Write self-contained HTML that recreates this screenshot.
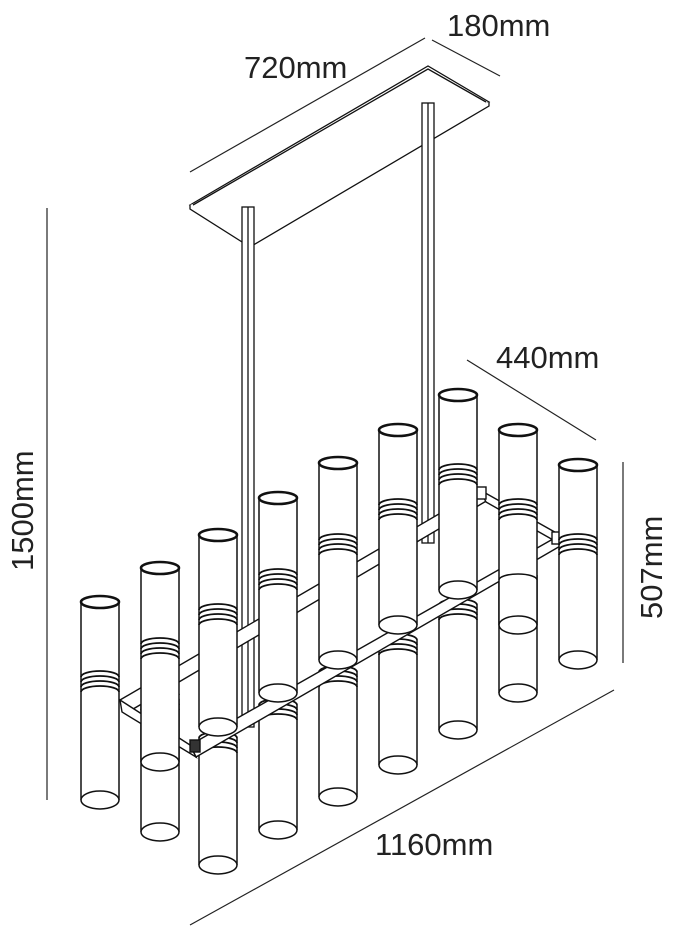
<!DOCTYPE html>
<html><head><meta charset="utf-8"><style>
html,body{margin:0;padding:0;background:#fff;width:700px;height:937px;overflow:hidden}
svg{display:block}
text{font-family:"Liberation Sans",sans-serif;fill:#222}
</style></head><body>
<svg width="700" height="937" viewBox="0 0 700 937" xmlns="http://www.w3.org/2000/svg">
<defs>
<g id="rings" fill="none" stroke="#111" stroke-width="1.8">
<path d="M-19 0 A19 6 0 0 1 19 0"/><path d="M-19 5 A19 6 0 0 1 19 5"/><path d="M-19 10 A19 6 0 0 1 19 10"/><path d="M-19 15 A19 6 0 0 1 19 15"/>
</g>
</defs>
<g stroke="#222" stroke-width="1.2" fill="none">
<line x1="190" y1="172" x2="425" y2="38"/>
<line x1="432" y1="40" x2="500" y2="76"/>
<line x1="47" y1="208" x2="47" y2="800"/>
<line x1="467" y1="360" x2="596" y2="440"/>
<line x1="623" y1="462" x2="623" y2="663"/>
<line x1="190" y1="925" x2="614" y2="690"/>
</g>
<text x="244" y="78" font-size="31">720mm</text>
<text x="447" y="36" font-size="31">180mm</text>
<text x="496" y="368" font-size="31">440mm</text>
<text x="375" y="855" font-size="31">1160mm</text>
<text transform="translate(33,571) rotate(-90)" font-size="31">1500mm</text>
<text transform="translate(662,619) rotate(-90)" font-size="31">507mm</text>

<g stroke="#111" stroke-width="1.3" fill="#fff">
<path d="M190 205 L428 66 L489 102 L250 243 Z"/>
<path d="M190 205 L190 209 L250 247 L489 106 L489 102" />
<path d="M193 205 L428 69 L486 102" fill="none"/>
</g>
<g stroke="#111" stroke-width="1.3" fill="#fff">
<rect x="242" y="207" width="12" height="520"/>
<line x1="248" y1="207" x2="248" y2="727"/>
<rect x="422" y="103" width="12" height="440"/>
<line x1="428" y1="103" x2="428" y2="543"/>
</g>

<g stroke="#111" stroke-width="1.5" fill="#fff">
<g transform="translate(160,700)"><path d="M-19 0 V132 M19 0 V132"/><ellipse cx="0" cy="132" rx="19" ry="9"/><use href="#rings" y="-5"/></g>
<g transform="translate(218,738)"><path d="M-19 0 V127 M19 0 V127"/><ellipse cx="0" cy="127" rx="19" ry="9"/><use href="#rings" y="0"/></g>
<g transform="translate(278,705)"><path d="M-19 0 V125 M19 0 V125"/><ellipse cx="0" cy="125" rx="19" ry="9"/><use href="#rings" y="0"/></g>
<g transform="translate(338,672)"><path d="M-19 0 V125 M19 0 V125"/><ellipse cx="0" cy="125" rx="19" ry="9"/><use href="#rings" y="0"/></g>
<g transform="translate(398,640)"><path d="M-19 0 V125 M19 0 V125"/><ellipse cx="0" cy="125" rx="19" ry="9"/><use href="#rings" y="0"/></g>
<g transform="translate(458,605)"><path d="M-19 0 V125 M19 0 V125"/><ellipse cx="0" cy="125" rx="19" ry="9"/><use href="#rings" y="0"/></g>
<g transform="translate(518,575)"><path d="M-19 0 V118 M19 0 V118"/><ellipse cx="0" cy="118" rx="19" ry="9"/></g>
</g>

<g stroke="#111" stroke-width="1.4" fill="#fff">
<path d="M120 700 L480 490 L488 500 L128 712 Z"/>
<path d="M190 745 L560 535 L562 545 L196 757 Z"/>
<path d="M120 700 L190 745 L196 757 L122 712 Z"/>
<path d="M480 490 L560 535 L562 545 L486 502 Z"/>
<rect x="190" y="740" width="10" height="12" fill="#333"/>
<rect x="476" y="487" width="10" height="12"/>
<rect x="552" y="532" width="10" height="12"/>
</g>

<g stroke="#111" stroke-width="1.5" fill="#fff">
<g transform="translate(100,602)"><rect x="-19" y="0" width="38" height="198" stroke="none"/><path d="M-19 0 V198 M19 0 V198"/><ellipse cx="0" cy="0" rx="19" ry="6" stroke-width="2.6"/><ellipse cx="0" cy="198" rx="19" ry="9"/><use href="#rings" y="75"/></g>
<g transform="translate(160,568)"><rect x="-19" y="0" width="38" height="194" stroke="none"/><path d="M-19 0 V194 M19 0 V194"/><ellipse cx="0" cy="0" rx="19" ry="6" stroke-width="2.6"/><ellipse cx="0" cy="194" rx="19" ry="9"/><use href="#rings" y="76"/></g>
<g transform="translate(218,535)"><rect x="-19" y="0" width="38" height="192" stroke="none"/><path d="M-19 0 V192 M19 0 V192"/><ellipse cx="0" cy="0" rx="19" ry="6" stroke-width="2.6"/><ellipse cx="0" cy="192" rx="19" ry="9"/><use href="#rings" y="75"/></g>
<g transform="translate(278,498)"><rect x="-19" y="0" width="38" height="195" stroke="none"/><path d="M-19 0 V195 M19 0 V195"/><ellipse cx="0" cy="0" rx="19" ry="6" stroke-width="2.6"/><ellipse cx="0" cy="195" rx="19" ry="9"/><use href="#rings" y="77"/></g>
<g transform="translate(338,463)"><rect x="-19" y="0" width="38" height="197" stroke="none"/><path d="M-19 0 V197 M19 0 V197"/><ellipse cx="0" cy="0" rx="19" ry="6" stroke-width="2.6"/><ellipse cx="0" cy="197" rx="19" ry="9"/><use href="#rings" y="77"/></g>
<g transform="translate(398,430)"><rect x="-19" y="0" width="38" height="195" stroke="none"/><path d="M-19 0 V195 M19 0 V195"/><ellipse cx="0" cy="0" rx="19" ry="6" stroke-width="2.6"/><ellipse cx="0" cy="195" rx="19" ry="9"/><use href="#rings" y="75"/></g>
<g transform="translate(458,395)"><rect x="-19" y="0" width="38" height="195" stroke="none"/><path d="M-19 0 V195 M19 0 V195"/><ellipse cx="0" cy="0" rx="19" ry="6" stroke-width="2.6"/><ellipse cx="0" cy="195" rx="19" ry="9"/><use href="#rings" y="75"/></g>
<g transform="translate(518,430)"><rect x="-19" y="0" width="38" height="195" stroke="none"/><path d="M-19 0 V195 M19 0 V195"/><ellipse cx="0" cy="0" rx="19" ry="6" stroke-width="2.6"/><ellipse cx="0" cy="195" rx="19" ry="9"/><use href="#rings" y="75"/><path d="M-19 150 A19 6 0 0 1 19 150"/></g>
<g transform="translate(578,465)"><rect x="-19" y="0" width="38" height="195" stroke="none"/><path d="M-19 0 V195 M19 0 V195"/><ellipse cx="0" cy="0" rx="19" ry="6" stroke-width="2.6"/><ellipse cx="0" cy="195" rx="19" ry="9"/><use href="#rings" y="75"/></g>
</g>
</svg>
</body></html>
